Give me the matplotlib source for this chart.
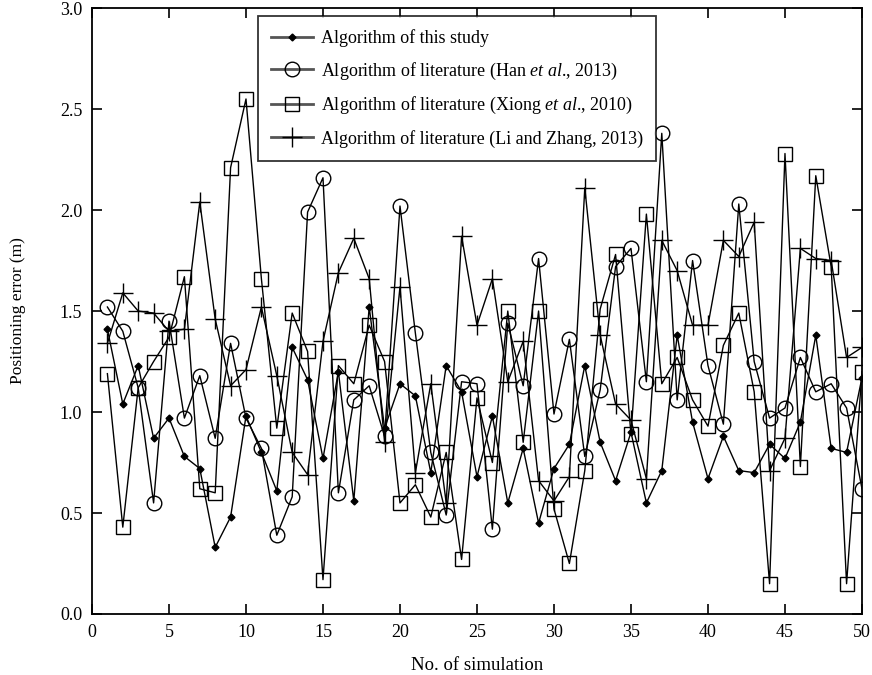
import matplotlib

matplotlib.use('Agg')
import matplotlib.pyplot as plt
from matplotlib.ticker import FormatStrFormatter

plt.rcParams['font.family'] = ['Liberation Serif', 'DejaVu Serif']
plt.rcParams['mathtext.fontset'] = 'custom'
plt.rcParams['mathtext.rm'] = 'Liberation Serif'
plt.rcParams['mathtext.it'] = 'Liberation Serif:italic'

# --- values ---
runs = list(range(1, 51))

this_study = [1.41, 1.04, 1.23, 0.87, 0.97, 0.78, 0.72, 0.33, 0.48, 0.98,
              0.80, 0.61, 1.32, 1.16, 0.77, 1.20, 0.56, 1.52, 0.92, 1.14,
              1.08, 0.70, 1.23, 1.10, 0.68, 0.98, 0.55, 0.82, 0.45, 0.72,
              0.84, 1.23, 0.85, 0.66, 0.90, 0.55, 0.71, 1.38, 0.95, 0.67,
              0.88, 0.71, 0.70, 0.84, 0.77, 0.95, 1.38, 0.82, 0.80, 1.17]

han_2013 = [1.52, 1.40, 1.12, 0.55, 1.45, 0.97, 1.18, 0.87, 1.34, 0.97,
            0.82, 0.39, 0.58, 1.99, 2.16, 0.60, 1.06, 1.13, 0.88, 2.02,
            1.39, 0.80, 0.49, 1.15, 1.14, 0.42, 1.44, 1.13, 1.76, 0.99,
            1.36, 0.78, 1.11, 1.72, 1.81, 1.15, 2.38, 1.06, 1.75, 1.23,
            0.94, 2.03, 1.25, 0.97, 1.02, 1.27, 1.10, 1.14, 1.02, 0.62]

xiong_2010 = [1.19, 0.43, 1.12, 1.25, 1.37, 1.67, 0.62, 0.60, 2.21, 2.55,
              1.66, 0.92, 1.49, 1.30, 0.17, 1.23, 1.14, 1.43, 1.25, 0.55,
              0.64, 0.48, 0.80, 0.27, 1.07, 0.75, 1.50, 0.85, 1.50, 0.52,
              0.25, 0.71, 1.51, 1.78, 0.89, 1.98, 1.14, 1.27, 1.06, 0.93,
              1.33, 1.49, 1.10, 0.15, 2.28, 0.73, 2.17, 1.72, 0.15, 1.20]

li_zhang_2013 = [1.34, 1.59, 1.50, 1.49, 1.40, 1.41, 2.04, 1.46, 1.13, 1.21,
                 1.52, 1.18, 0.80, 0.69, 1.35, 1.69, 1.86, 1.66, 0.85, 1.62,
                 0.70, 1.14, 0.55, 1.87, 1.43, 1.66, 1.15, 1.35, 0.66, 0.56,
                 0.68, 2.11, 1.38, 1.04, 0.96, 0.67, 1.85, 1.70, 1.43, 1.43,
                 1.85, 1.77, 1.94, 0.71, 0.87, 1.81, 1.76, 1.75, 1.27, 1.32]

labels = [
    'Algorithm of this study',
    r'Algorithm of literature (Han $\mathit{et\ al}$., 2013)',
    r'Algorithm of literature (Xiong $\mathit{et\ al}$., 2010)',
    'Algorithm of literature (Li and Zhang, 2013)',
]

fig = plt.figure(figsize=(8.72, 6.75), dpi=100)
ax = fig.add_axes([0.1055, 0.0904, 0.883, 0.8976])

lw = 1.0
ax.plot(runs, this_study, color='black', lw=lw, marker='D', ms=3.5,
        mfc='black', mec='black', label=labels[0])
ax.plot(runs, han_2013, color='black', lw=lw, marker='o', ms=10.5,
        mfc='none', mec='black', mew=1.0, label=labels[1])
ax.plot(runs, xiong_2010, color='black', lw=lw, marker='s', ms=10.5,
        mfc='none', mec='black', mew=1.0, label=labels[2])
ax.plot(runs, li_zhang_2013, color='black', lw=lw, marker='+', ms=14,
        mec='black', mew=1.0, label=labels[3])

ax.set_xlim(0, 50)
ax.set_ylim(0, 3.0)
ax.set_xticks(range(0, 51, 5))
ax.set_yticks([0, 0.5, 1.0, 1.5, 2.0, 2.5, 3.0])
ax.yaxis.set_major_formatter(FormatStrFormatter('%.1f'))
ax.tick_params(direction='in', top=True, right=True, length=7, width=1.2,
               labelsize=13, pad=7)
for sp in ax.spines.values():
    sp.set_linewidth(1.3)

ax.set_xlabel('No. of simulation', fontsize=13.5, labelpad=12)
ax.set_ylabel('Positioning error (m)', fontsize=12.5, labelpad=24)

leg = ax.legend(loc='upper left', bbox_to_anchor=(0.2156, 0.987),
                fontsize=13.0, frameon=True, fancybox=False,
                edgecolor='black', handlelength=2.3, labelspacing=0.75,
                borderpad=0.72, handletextpad=0.45, borderaxespad=0)
leg.get_frame().set_linewidth(1.3)
for h in leg.get_lines():
    h.set_color('#555555')
    h.set_linewidth(2.0)

fig.savefig('out.png', dpi=100)
